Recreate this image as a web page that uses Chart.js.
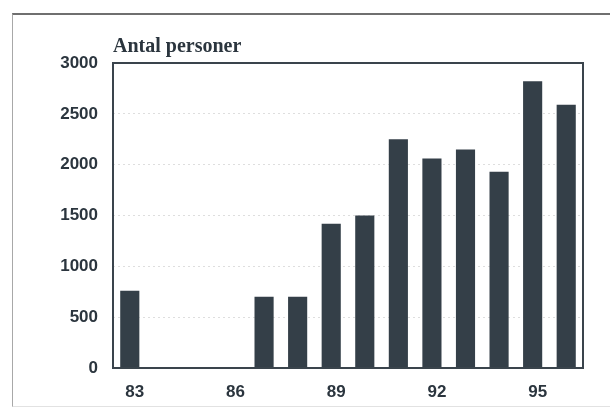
<!DOCTYPE html>
<html>
<head>
<meta charset="utf-8">
<script src="https://cdn.jsdelivr.net/npm/chart.js@4/dist/chart.umd.min.js"></script>
<style>
  html, body { margin: 0; padding: 0; background: #fff; }
  #wrap { position: relative; width: 610px; height: 412px; }
  #frame { position: absolute; left: 12px; top: 13px; right: 0; bottom: 5px;
           border-top: 2px solid #6f6f6f; border-left: 1px solid #a8a8a8; border-bottom: 1px solid #e2e2e2; }
  canvas { position: absolute; left: 0; top: 0; }
</style>
</head>
<body>
<div id="wrap">
  <div id="frame"></div>
  <canvas id="chart" width="610" height="412"></canvas>
</div>
<script>
// Data
const years = ["83", "84", "85", "86", "87", "88", "89", "90", "91", "92", "93", "94", "95", "96"];
const persons = [760, 0, 0, 0, 700, 700, 1420, 1500, 2250, 2060, 2150, 1930, 2820, 2590];
const yTicks = [0, 500, 1000, 1500, 2000, 2500, 3000];
const titleText = "Antal personer";

const ink = "#343f48";
const textInk = "#2b353e";

// draws the box round the plot and the title above it
const framePlugin = {
  id: "framePlugin",
  afterDatasetsDraw(chart) {
    const { ctx, chartArea } = chart;
    ctx.save();
    ctx.strokeStyle = "#3a444c";
    ctx.lineWidth = 2;
    ctx.strokeRect(chartArea.left, chartArea.top, chartArea.right - chartArea.left, chartArea.bottom - chartArea.top);
    ctx.fillStyle = textInk;
    ctx.font = "bold 20px 'Liberation Serif', 'Times New Roman', serif";
    ctx.textBaseline = "alphabetic";
    ctx.fillText(titleText, chartArea.left, chartArea.top - 11);
    ctx.restore();
  }
};

const ctx = document.getElementById("chart").getContext("2d");

new Chart(ctx, {
  type: "bar",
  data: {
    labels: years,
    datasets: [
      {
        data: persons,
        backgroundColor: ink,
        barPercentage: 0.57,
        categoryPercentage: 1.0,
      },
    ],
  },
  options: {
    responsive: false,
    animation: false,
    layout: { padding: { left: 0, top: 63, right: 27, bottom: 0 } },
    plugins: {
      legend: { display: false },
      tooltip: { enabled: false },
    },
    scales: {
      x: {
        grid: { display: false, drawTicks: false },
        border: { display: false },
        ticks: {
          autoSkip: false,
          maxRotation: 0,
          padding: 14,
          labelOffset: 5,
          color: textInk,
          font: { family: "'Liberation Sans', Arial, sans-serif", size: 17, weight: "bold" },
          callback: (v, i) => (i % 3 === 0 ? years[i] : ""),
        },
        afterFit: (scale) => { scale.height = 44; },
      },
      y: {
        min: 0,
        max: 3000,
        afterBuildTicks: (scale) => { scale.ticks = yTicks.map((v) => ({ value: v })); },
        grid: { color: "#dedede", lineWidth: 1, drawTicks: false },
        border: { display: false, dash: [2, 3] },
        ticks: {
          padding: 15,
          color: textInk,
          font: { family: "'Liberation Sans', Arial, sans-serif", size: 17, weight: "bold" },
          callback: (v) => String(v),
        },
        afterFit: (scale) => { scale.width = 113; },
      },
    },
  },
  plugins: [framePlugin],
});
</script>
</body>
</html>
